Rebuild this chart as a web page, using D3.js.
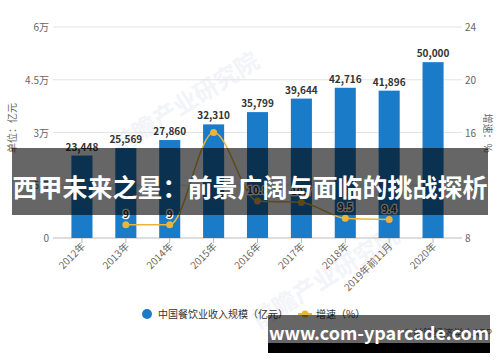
<!DOCTYPE html>
<html>
<head>
<meta charset="utf-8">
<style>
  body{ margin:0; background:#fff; }
  text{ font-family: "Noto Sans CJK SC", "Noto Sans", sans-serif; }
</style>
<script src="https://d3js.org/d3.v7.min.js"></script>
</head>
<body>
<script>
const years = ["2012年","2013年","2014年","2015年","2016年","2017年","2018年","2019年前11月","2020年"];
const revenue = [23448, 25569, 27860, 32310, 35799, 39644, 42716, 41896, 50000];
const growth = [null, 9, 9, 16, 10.8, 10.7, 9.5, 9.4, null];
const growthShown = [false, true, true, false, true, true, true, true, false];
const leftTicks = [0, 15000, 30000, 45000, 60000];
const leftTickLabels = ["0", "1.5万", "3万", "4.5万", "6万"];
const rightTicks = [8, 12, 16, 20, 24];

const w = 500, h = 362;
const blue = "#1a7bc9";
const gold = "#eab53a";

const svg = d3.select("body").append("svg")
  .attr("width", w)
  .attr("height", h);

const x = d3.scaleBand().domain(years).range([60, 455]).paddingInner(0.52).paddingOuter(0.26);
const y = d3.scaleLinear().domain([0, 60000]).range([238, 27]);
const y2 = d3.scaleLinear().domain([8, 24]).range([238, 27]);

// faint watermarks
const wm = [[190, 110], [330, 285]];
svg.selectAll(".wm")
  .data(wm)
  .enter()
  .append("text")
  .attr("class", "wm")
  .attr("transform", d => "translate(" + d[0] + "," + d[1] + ") rotate(-32)")
  .attr("text-anchor", "middle")
  .attr("font-size", 24)
  .attr("font-weight", "bold")
  .attr("fill", "#f2f4f8")
  .text("前瞻产业研究院");

// grid lines
svg.selectAll(".grid")
  .data(leftTicks)
  .enter()
  .append("line")
  .attr("x1", 53)
  .attr("x2", 462)
  .attr("y1", d => y(d))
  .attr("y2", d => y(d))
  .attr("stroke", d => d == 0 ? "#bbb" : "#e3e3e3")
  .attr("stroke-width", 1);

// left ticks
svg.selectAll(".lt")
  .data(leftTicks)
  .enter()
  .append("text")
  .attr("x", 49)
  .attr("y", d => y(d) + 4)
  .attr("text-anchor", "end")
  .attr("font-size", 10)
  .attr("fill", "#666")
  .text((d, i) => leftTickLabels[i]);

// right ticks
svg.selectAll(".rt")
  .data(rightTicks)
  .enter()
  .append("text")
  .attr("x", 465)
  .attr("y", d => y2(d) + 4)
  .attr("font-size", 10)
  .attr("fill", "#666")
  .text(d => d);

// axis titles
svg.append("text")
  .attr("transform", "translate(16,128) rotate(-90)")
  .attr("text-anchor", "middle")
  .attr("font-size", 10)
  .attr("fill", "#666")
  .text("单位：亿元");

svg.append("text")
  .attr("transform", "translate(484,133) rotate(90)")
  .attr("text-anchor", "middle")
  .attr("font-size", 10)
  .attr("fill", "#666")
  .text("增速：%");

// x ticks
svg.selectAll(".xt")
  .data(years)
  .enter()
  .append("line")
  .attr("x1", d => x(d) + x.bandwidth() / 2)
  .attr("x2", d => x(d) + x.bandwidth() / 2)
  .attr("y1", 238)
  .attr("y2", 243)
  .attr("stroke", "#bbb");

svg.selectAll(".xl")
  .data(years)
  .enter()
  .append("text")
  .attr("transform", d => "translate(" + (x(d) + x.bandwidth() / 2 + 4) + ",247) rotate(-45)")
  .attr("text-anchor", "end")
  .attr("font-size", 10)
  .attr("fill", "#666")
  .text(d => d);

// bars
svg.selectAll(".bar")
  .data(revenue)
  .enter()
  .append("rect")
  .attr("x", (d, i) => x(years[i]))
  .attr("y", d => y(d))
  .attr("width", x.bandwidth())
  .attr("height", d => 238 - y(d))
  .attr("fill", blue);

svg.selectAll(".bl")
  .data(revenue)
  .enter()
  .append("text")
  .attr("x", (d, i) => x(years[i]) + x.bandwidth() / 2)
  .attr("y", d => y(d) - 5)
  .attr("text-anchor", "middle")
  .attr("font-size", 10)
  .attr("font-weight", "bold")
  .attr("fill", "#333")
  .text(d => d3.format(",")(d));

// growth line
const pts = growth.map((d, i) => ({ yr: years[i], v: d, show: growthShown[i] })).filter(d => d.v != null);
const line = d3.line()
  .x(d => x(d.yr) + x.bandwidth() / 2)
  .y(d => y2(d.v))
  .curve(d3.curveMonotoneX);

svg.append("path")
  .datum(pts)
  .attr("d", line)
  .attr("fill", "none")
  .attr("stroke", gold)
  .attr("stroke-width", 1.5);

svg.selectAll(".pt")
  .data(pts)
  .enter()
  .append("circle")
  .attr("cx", d => x(d.yr) + x.bandwidth() / 2)
  .attr("cy", d => y2(d.v))
  .attr("r", 3.5)
  .attr("fill", gold);

svg.selectAll(".pl")
  .data(pts.filter(d => d.show))
  .enter()
  .append("text")
  .attr("x", d => x(d.yr) + x.bandwidth() / 2)
  .attr("y", d => y2(d.v) - 7)
  .attr("text-anchor", "middle")
  .attr("font-size", 10)
  .attr("font-weight", "bold")
  .attr("fill", "#333")
  .attr("stroke", "#fff")
  .attr("stroke-width", 2.5)
  .attr("paint-order", "stroke")
  .text(d => d.v);

// legend
svg.append("circle")
  .attr("cx", 147)
  .attr("cy", 314)
  .attr("r", 5)
  .attr("fill", blue);
svg.append("text")
  .attr("x", 158)
  .attr("y", 318)
  .attr("font-size", 10)
  .attr("fill", "#333")
  .text("中国餐饮业收入规模（亿元）");

svg.append("line")
  .attr("x1", 298)
  .attr("x2", 312)
  .attr("y1", 314)
  .attr("y2", 314)
  .attr("stroke", gold)
  .attr("stroke-width", 2);
svg.append("circle")
  .attr("cx", 305)
  .attr("cy", 314)
  .attr("r", 3.5)
  .attr("fill", gold);
svg.append("text")
  .attr("x", 316)
  .attr("y", 318)
  .attr("font-size", 10)
  .attr("fill", "#333")
  .text("增速（%）");

svg.append("text")
  .attr("x", 492)
  .attr("y", 337)
  .attr("text-anchor", "end")
  .attr("font-size", 10)
  .attr("fill", "#666")
  .text("© 前瞻经济学人APP");

// title banner
svg.append("rect")
  .attr("x", 12)
  .attr("y", 148)
  .attr("width", 476)
  .attr("height", 67)
  .attr("fill", "#000")
  .attr("opacity", 0.6);
svg.append("text")
  .attr("x", 250)
  .attr("y", 197)
  .attr("text-anchor", "middle")
  .attr("font-size", 25)
  .attr("font-weight", "bold")
  .attr("fill", "#fff")
  .text("西甲未来之星：前景广阔与面临的挑战探析");

// bottom site banner
svg.append("rect")
  .attr("x", 268)
  .attr("y", 315)
  .attr("width", 222)
  .attr("height", 28)
  .attr("fill", "#000")
  .attr("opacity", 0.6);
svg.append("rect")
  .attr("x", 268)
  .attr("y", 343)
  .attr("width", 222)
  .attr("height", 10)
  .attr("fill", "#000");
svg.append("text")
  .attr("x", 379)
  .attr("y", 340)
  .attr("text-anchor", "middle")
  .attr("font-size", 18)
  .attr("font-weight", "bold")
  .attr("fill", "#fff")
  .text("www.com-yparcade.com");
</script>
</body>
</html>
